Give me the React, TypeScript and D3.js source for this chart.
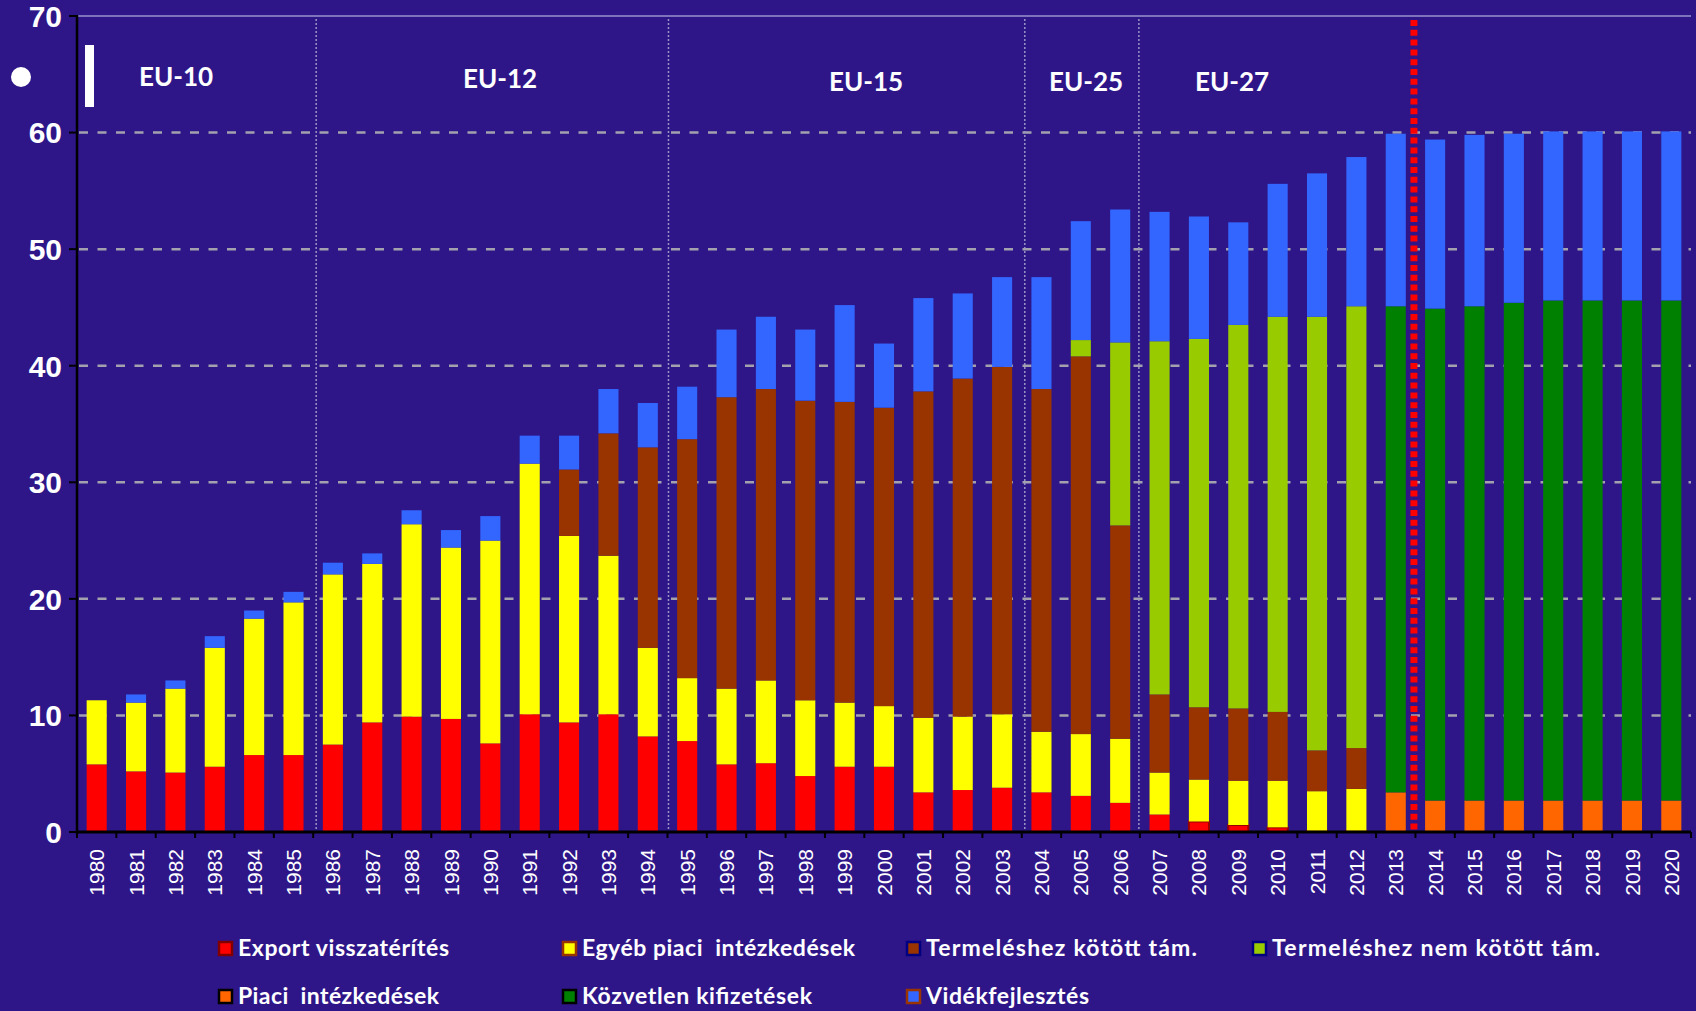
import * as d3 from "d3";
import React from "react";

// categories
const years = d3.range(1980, 2021).map(String);

// series values (billion EUR), bottom to top of each stack
const exportRefunds = [
  5.8, 5.2, 5.1, 5.6, 6.6, 6.6, 7.5, 9.4, 9.9, 9.7, 7.6, 10.1, 9.4, 10.1, 8.2, 7.8,
  5.8, 5.9, 4.8, 5.6, 5.6, 3.4, 3.6, 3.8, 3.4, 3.1, 2.5, 1.5, 0.9, 0.6, 0.4, 0.1, 0.1,
  0, 0, 0, 0, 0, 0, 0, 0,
];
const otherMarket = [
  5.5, 5.9, 7.2, 10.2, 11.7, 13.1, 14.6, 13.6, 16.5, 14.7, 17.4, 21.5, 16.0, 13.6, 7.6, 5.4,
  6.5, 7.1, 6.5, 5.5, 5.2, 6.4, 6.3, 6.3, 5.2, 5.3, 5.5, 3.6, 3.6, 3.8, 4.0, 3.4, 3.6,
  0, 0, 0, 0, 0, 0, 0, 0,
];
const coupledSupport = [
  0, 0, 0, 0, 0, 0, 0, 0, 0, 0, 0, 0, 5.7, 10.5, 17.2, 20.5,
  25.0, 25.0, 25.7, 25.8, 25.6, 28.0, 29.0, 29.8, 29.4, 32.4, 18.3, 6.7, 6.2, 6.2, 5.9, 3.5, 3.5,
  0, 0, 0, 0, 0, 0, 0, 0,
];
const decoupledSupport = [
  0, 0, 0, 0, 0, 0, 0, 0, 0, 0, 0, 0, 0, 0, 0, 0,
  0, 0, 0, 0, 0, 0, 0, 0, 0, 1.4, 15.7, 30.3, 31.6, 32.9, 33.9, 37.2, 37.9,
  0, 0, 0, 0, 0, 0, 0, 0,
];
const marketMeasures = [
  0, 0, 0, 0, 0, 0, 0, 0, 0, 0, 0, 0, 0, 0, 0, 0,
  0, 0, 0, 0, 0, 0, 0, 0, 0, 0, 0, 0, 0, 0, 0, 0, 0,
  3.4, 2.7, 2.7, 2.7, 2.7, 2.7, 2.7, 2.7,
];
const directPayments = [
  0, 0, 0, 0, 0, 0, 0, 0, 0, 0, 0, 0, 0, 0, 0, 0,
  0, 0, 0, 0, 0, 0, 0, 0, 0, 0, 0, 0, 0, 0, 0, 0, 0,
  41.7, 42.2, 42.4, 42.7, 42.9, 42.9, 42.9, 42.9,
];
const ruralDevelopment = [
  0, 0.7, 0.7, 1.0, 0.7, 0.9, 1.0, 0.9, 1.2, 1.5, 2.1, 2.4, 2.9, 3.8, 3.8, 4.5,
  5.8, 6.2, 6.1, 8.3, 5.5, 8.0, 7.3, 7.7, 9.6, 10.2, 11.4, 11.1, 10.5, 8.8, 11.4, 12.3, 12.8,
  14.8, 14.5, 14.7, 14.5, 14.5, 14.5, 14.5, 14.5,
];

const seriesKeys = ["exp", "oth", "cpl", "dcp", "mkt", "dir", "rur"];
const seriesValues = [
  exportRefunds, otherMarket, coupledSupport, decoupledSupport,
  marketMeasures, directPayments, ruralDevelopment,
];
const seriesColors = ["#ff0000", "#ffff00", "#993300", "#99cc00", "#ff6600", "#008000", "#3366ff"];

// legend, in reading order
const legendNames = [
  "Export visszatérítés", "Egyéb piaci  intézkedések", "Termeléshez kötött tám.", "Termeléshez nem kötött tám.",
  "Piaci  intézkedések", "Közvetlen kifizetések", "Vidékfejlesztés",
];
const legendFill = ["#ff0000", "#ffff00", "#993300", "#99cc00", "#ff6600", "#008000", "#3366ff"];
const legendBorder = ["#800000", "#993300", "#000080", "#000080", "#000000", "#000000", "#993300"];

const yTicks = [0, 10, 20, 30, 40, 50, 60, 70];
const eraLabels = ["EU-10", "EU-12", "EU-15", "EU-25", "EU-27"];
const eraStarts = ["1986", "1995", "2004", "2007"];
const forecastFrom = "2014";

const BG = "#2e1688";

export default function App() {
  const W = 1696;
  const H = 1011;
  const left = 77;
  const right = 1691;
  const top = 16;
  const bottom = 832;

  const x = d3
    .scaleBand()
    .domain(years)
    .range([left, right])
    .paddingInner(0.49)
    .paddingOuter(0.245);
  const y = d3.scaleLinear().domain([0, 70]).range([bottom, top]);

  const table = years.map((yr, i) => {
    const row: any = { year: yr };
    seriesKeys.forEach((k, j) => (row[k] = seriesValues[j][i]));
    return row;
  });
  const stacked = d3.stack<any>().keys(seriesKeys)(table);

  const step = x.step();
  const edge = (yr: string) => (x(yr) as number) - (step * x.paddingInner()) / 2;
  const boundaries = years.map((yr) => edge(yr)).concat([right]);

  // era label placement
  const eraPos = [
    { x: 176, y: 86 },
    { x: 500, y: 88 },
    { x: 866, y: 91 },
    { x: 1086, y: 91 },
    { x: 1232, y: 91 },
  ];
  const dividerShift = [3, 1, 3, -1];
  const legendCols = [218, 562, 906, 1252];
  const legendRows = [941, 989];
  const legendWidths = [211, 273, 271, 328, 201, 230, 163];

  return (
    <svg
      width={W}
      height={H}
      style={{ position: "absolute", left: 0, top: 0, display: "block" }}
    >
      <rect x={0} y={0} width={W} height={H} fill={BG} />

      {/* gridlines */}
      {yTicks.slice(1, -1).map((t) => (
        <line
          key={t}
          x1={left + 2}
          x2={right}
          y1={y(t)}
          y2={y(t)}
          stroke="#a3a1ae"
          strokeWidth={2.5}
          strokeDasharray="9 9.5"
        />
      ))}
      <line x1={left} x2={right} y1={y(70)} y2={y(70)} stroke="#7d74bd" strokeWidth={2} />

      {/* era dividers */}
      {eraStarts.map((yr, i) => (
        <line
          key={yr}
          x1={edge(yr) + dividerShift[i]}
          x2={edge(yr) + dividerShift[i]}
          y1={top + 3}
          y2={bottom - 3}
          stroke="#9a96c4"
          strokeWidth={1.5}
          strokeDasharray="2 2"
        />
      ))}

      {/* bars */}
      {stacked.map((s, j) => (
        <g key={s.key} fill={seriesColors[j]}>
          {s.map((d, i) => {
            const v = d[1] - d[0];
            if (v <= 0) return null;
            const small = j === 0 && v < 1.2;
            return (
              <rect
                key={years[i]}
                x={x(years[i])}
                y={y(d[1])}
                width={x.bandwidth()}
                height={y(d[0]) - y(d[1])}
                stroke={small ? "#990000" : "none"}
                strokeWidth={small ? 2 : 0}
              />
            );
          })}
        </g>
      ))}

      {/* forecast divider */}
      <line
        x1={edge(forecastFrom) - 1.5}
        x2={edge(forecastFrom) - 1.5}
        y1={20}
        y2={bottom - 2}
        stroke="#ff0000"
        strokeWidth={7}
        strokeDasharray="6 3.8"
      />

      {/* y axis */}
      <line x1={left} x2={left} y1={top - 1} y2={bottom + 2} stroke="#000" strokeWidth={2.5} />
      {yTicks.map((t) => (
        <g key={t}>
          <line x1={left - 8} x2={left} y1={y(t)} y2={y(t)} stroke="#000" strokeWidth={2} />
          <text
            x={62}
            y={y(t)}
            dy="0.36em"
            textAnchor="end"
            fill="#fff"
            fontFamily="'Liberation Sans', Arial, sans-serif"
            fontWeight="bold"
            fontSize={30}
          >
            {t}
          </text>
        </g>
      ))}

      {/* x axis */}
      <line x1={left} x2={right} y1={bottom} y2={bottom} stroke="#000" strokeWidth={3} />
      {boundaries.map((b, i) => (
        <line key={i} x1={b} x2={b} y1={bottom} y2={bottom + 6} stroke="#000" strokeWidth={2} />
      ))}
      {years.map((yr) => {
        const cx = (x(yr) as number) + x.bandwidth() / 2;
        return (
          <text
            key={yr}
            transform={`translate(${cx},849) rotate(-90)`}
            textAnchor="end"
            dy="0.36em"
            fill="#fff"
            fontFamily="'Liberation Sans', Arial, sans-serif"
            fontSize={21}
          >
            {yr}
          </text>
        );
      })}

      {/* era labels */}
      {eraLabels.map((lab, i) => (
        <text
          key={lab}
          x={eraPos[i].x}
          y={eraPos[i].y}
          textAnchor="middle"
          fill="#fff"
          fontFamily="Lato, 'Open Sans', sans-serif"
          fontWeight="bold"
          fontSize={26}
        >
          {lab}
        </text>
      ))}

      {/* stray markers at top left */}
      <circle cx={21} cy={77} r={10} fill="#fff" />
      <rect x={85} y={45} width={9} height={62} fill="#fff" />

      {/* legend */}
      {legendNames.map((name, i) => {
        const col = i < 4 ? i : i - 4;
        const row = i < 4 ? 0 : 1;
        const lx = legendCols[col];
        const ly = legendRows[row];
        return (
          <g key={name}>
            <rect
              x={lx + 1}
              y={ly + 1}
              width={13}
              height={13}
              fill={legendFill[i]}
              stroke={legendBorder[i]}
              strokeWidth={2.5}
            />
            <text
              x={lx + 20}
              y={ly + 15}
              fill="#fff"
              fontFamily="Lato, 'Open Sans', sans-serif"
              fontWeight="bold"
              fontSize={23}
              textLength={legendWidths[i]}
              lengthAdjust="spacing"
              style={{ whiteSpace: "pre" }}
            >
              {name}
            </text>
          </g>
        );
      })}
    </svg>
  );
}
